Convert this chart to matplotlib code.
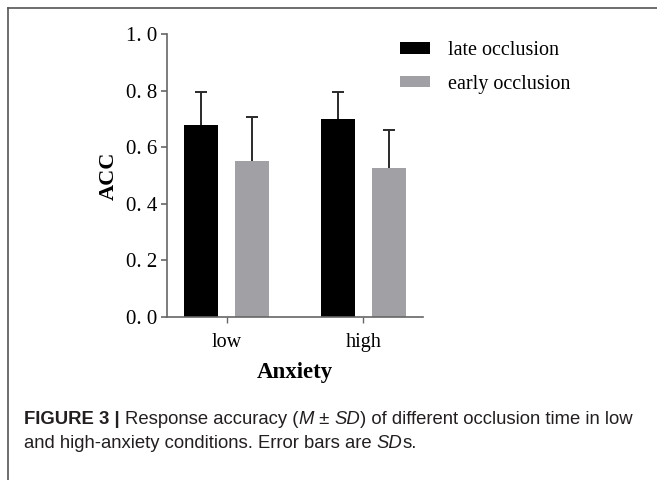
import matplotlib
matplotlib.use("Agg")
import matplotlib.pyplot as plt
import numpy as np
from matplotlib.lines import Line2D

categories = ["low", "high"]
series_names = ["late occlusion", "early occlusion"]
late_mean = [0.677, 0.699]
late_sd = [0.118, 0.097]
early_mean = [0.552, 0.527]
early_sd = [0.154, 0.133]
ytick_values = [0.0, 0.2, 0.4, 0.6, 0.8, 1.0]
ytick_labels = ["0. 0", "0. 2", "0. 4", "0. 6", "0. 8", "1. 0"]
xlabel = "Anxiety"
ylabel = "ACC"

W, H = 657, 480
fig = plt.figure(figsize=(W / 100, H / 100), dpi=100)
fig.patch.set_facecolor("white")

ax = fig.add_axes([167 / W, 1 - 316.7 / H, (423 - 167) / W, (316.7 - 34) / H])

x = np.arange(len(categories))
bw = 0.249
off = 0.188
colors = ["#000000", "#a1a1a5"]
err_kw = dict(ecolor="#2a2a2a", elinewidth=1.4, capsize=4.5, capthick=1.4)
containers = []
for means, sds, col, name, dx in [(late_mean, late_sd, colors[0], series_names[0], -off),
                                  (early_mean, early_sd, colors[1], series_names[1], off)]:
    bc = ax.bar(x + dx, means, bw, color=col, label=name,
                yerr=[np.zeros(len(sds)), sds], error_kw=err_kw, zorder=2)
    containers.append((bc, means))

# hide the lower (zero-length) caps sitting on the bar tops
for bc, means in containers:
    if bc.errorbar is not None:
        _, caplines, _ = bc.errorbar.lines
        for cl in caplines:
            yd = np.asarray(cl.get_ydata(), dtype=float)
            if np.allclose(yd, np.asarray(means, dtype=float)):
                cl.set_visible(False)

ax.set_xlim(-0.437, 1.437)
ax.set_ylim(0, 1.0)
ax.set_yticks(ytick_values)
ax.set_yticklabels(ytick_labels, fontfamily="Liberation Serif", fontsize=15)
ax.set_xticks(x)
ax.set_xticklabels(categories, fontfamily="Liberation Serif", fontsize=14.5)

for s in ["top", "right"]:
    ax.spines[s].set_visible(False)
for s in ["left", "bottom"]:
    ax.spines[s].set_color("#666666")
    ax.spines[s].set_linewidth(1.2)
ax.tick_params(axis="y", direction="out", length=4, width=1.2, color="#666666", pad=3)
ax.tick_params(axis="x", direction="out", length=4, width=1.0, color="#666666", pad=8)

ax.set_xlabel(xlabel, fontfamily="Liberation Serif", fontweight="bold", fontsize=16.5, labelpad=7)
ax.set_ylabel(ylabel, fontfamily="Liberation Serif", fontweight="bold", fontsize=16, labelpad=5)

leg = ax.legend(loc="upper left", bbox_to_anchor=(400 / W, 1 - 41 / H),
                bbox_transform=fig.transFigure, frameon=False,
                prop={"family": "Liberation Serif", "size": 14.5},
                handlelength=1.49, handleheight=0.5, handletextpad=0.9,
                labelspacing=0.73, borderpad=0, borderaxespad=0)

# frame lines
fig.add_artist(Line2D([7.5 / W, 7.5 / W], [0, 1 - 7.5 / H], transform=fig.transFigure,
                      color="#555555", linewidth=1.2))
fig.add_artist(Line2D([7.5 / W, 1], [1 - 7.5 / H, 1 - 7.5 / H], transform=fig.transFigure,
                      color="#555555", linewidth=1.2))

# caption with mixed styles
cap_size = 13.3
fam = "Liberation Sans"
lines = [
    [("FIGURE 3 | ", "bold", "normal"), ("Response accuracy (", "normal", "normal"),
     ("M", "normal", "italic"), (" \u00b1 ", "normal", "normal"), ("SD", "normal", "italic"),
     (") of different occlusion time in low", "normal", "normal")],
    [("and high-anxiety conditions. Error bars are ", "normal", "normal"),
     ("SD", "normal", "italic"), ("s.", "normal", "normal")],
]
baselines = [424.3, 447.5]
cap_texts = []
for parts, yb in zip(lines, baselines):
    row = []
    for txt, wt, st in parts:
        t = fig.text(24 / W, 1 - yb / H, txt, fontfamily=fam, fontsize=cap_size,
                     fontweight=wt, fontstyle=st, color="#231f20",
                     va="baseline", ha="left")
        row.append(t)
    cap_texts.append((row, yb))

fig.canvas.draw()
renderer = fig.canvas.get_renderer()
for row, yb in cap_texts:
    xcur = row[0].get_window_extent(renderer).x1
    for t in row[1:]:
        t.set_position((xcur / W, 1 - yb / H))
        xcur = t.get_window_extent(renderer).x1

fig.savefig("out.png", dpi=100)
